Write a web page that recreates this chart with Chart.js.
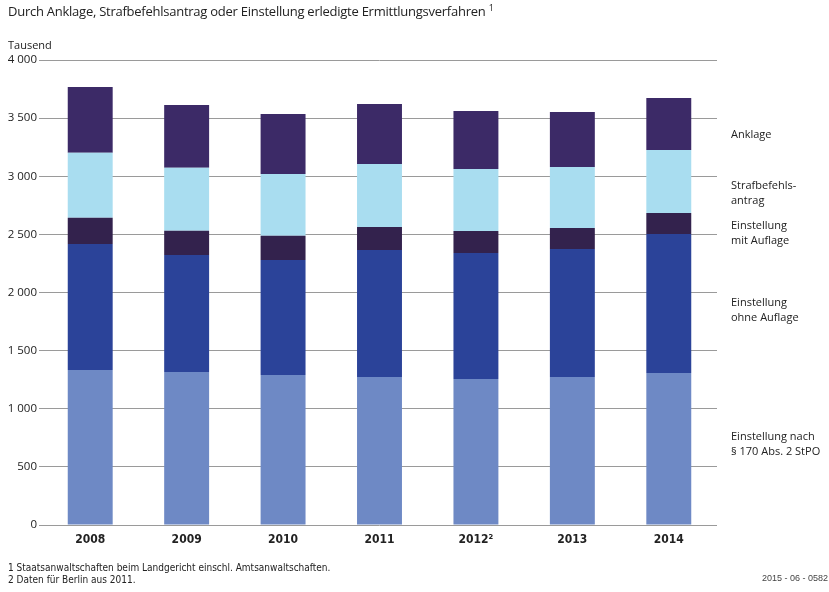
<!DOCTYPE html>
<html lang="de">
<head>
<meta charset="utf-8">
<script src="https://cdn.jsdelivr.net/npm/chart.js@4/dist/chart.umd.min.js"></script>
<style>
  body { margin: 0; background: #fff; font-family: "Open Sans", "Noto Sans", sans-serif; color: #222; }
  #wrap { position: relative; width: 829px; height: 592px; }
  canvas { position: absolute; left: 0; top: 0; }
  .txt { position: absolute; white-space: nowrap; }
  #title { left: 8px; top: 1px; font-size: 13px; letter-spacing: -0.25px; }
  #title sup { font-size: 9px; }
  #unit { left: 8px; top: 37px; font-size: 11px; }
  .foot { left: 8px; font-family: "Liberation Sans Narrow", "DejaVu Sans Condensed", sans-serif; font-size: 10px; }
  #code { left: 762px; top: 573px; font-family: "Liberation Sans Narrow", sans-serif; font-size: 9px; color: #444; }
</style>
</head>
<body>
<div id="wrap">
  <canvas id="chart" width="829" height="592"></canvas>
  <div class="txt" id="title">Durch Anklage, Strafbefehlsantrag oder Einstellung erledigte Ermittlungsverfahren <sup>1</sup></div>
  <div class="txt" id="unit">Tausend</div>
  <div class="txt foot" style="top:562px">1 Staatsanwaltschaften beim Landgericht einschl. Amtsanwaltschaften.</div>
  <div class="txt foot" style="top:574px">2 Daten für Berlin aus 2011.</div>
  <div class="txt" id="code">2015 - 06 - 0582</div>
</div>
<script>
// Werte in Tausend
const years = ['2008', '2009', '2010', '2011', '2012²', '2013', '2014'];
const nach170 = [1333, 1316, 1290, 1273, 1256, 1273, 1308];
const ohneAuflage = [1084, 1007, 990, 1093, 1084, 1101, 1195];
const mitAuflage = [226, 209, 209, 197, 189, 181, 181];
const strafbefehl = [560, 542, 530, 542, 533, 525, 542];
const anklage = [565, 539, 516, 517, 499, 473, 447];
const yTicks = [0, 500, 1000, 1500, 2000, 2500, 3000, 3500, 4000];

// Beschriftung rechts neben den Säulen (Lage in Tausend)
const seriesLabels = [
  ['Einstellung nach', '§ 170 Abs. 2 StPO'],
  ['Einstellung', 'ohne Auflage'],
  ['Einstellung', 'mit Auflage'],
  ['Strafbefehls-', 'antrag'],
  ['Anklage']
];
const labelAt = [690, 1850, 2505, 2850, 3355];

const colors = ['#6e89c5', '#2b4399', '#33224d', '#a9ddf0', '#3c2a67'];

const sideLabels = {
  id: 'sideLabels',
  afterDraw(chart) {
    const ctx = chart.ctx;
    const y = chart.scales.y;
    ctx.save();
    ctx.font = '11px "Open Sans", "Noto Sans", sans-serif';
    ctx.fillStyle = '#222';
    ctx.textBaseline = 'middle';
    seriesLabels.forEach((lines, i) => {
      const cy = y.getPixelForValue(labelAt[i]);
      const top = cy - (lines.length - 1) * 7.5;
      lines.forEach((l, j) => ctx.fillText(l, chart.chartArea.right + 14, top + j * 15));
    });
    ctx.restore();
  }
};

const data = {
  labels: years,
  datasets: [
    { label: 'Einstellung nach § 170 Abs. 2 StPO', data: nach170 },
    { label: 'Einstellung ohne Auflage', data: ohneAuflage },
    { label: 'Einstellung mit Auflage', data: mitAuflage },
    { label: 'Strafbefehlsantrag', data: strafbefehl },
    { label: 'Anklage', data: anklage }
  ].map((d, i) => Object.assign(d, {
    backgroundColor: colors[i],
    borderWidth: 0,
    barPercentage: 0.466,
    categoryPercentage: 1
  }))
};

new Chart(document.getElementById('chart'), {
  type: 'bar',
  data: data,
  options: {
    responsive: false,
    animation: false,
    layout: { padding: { left: 0, right: 112, top: 60, bottom: 42 } },
    plugins: { legend: { display: false }, tooltip: { enabled: false } },
    scales: {
      x: {
        stacked: true,
        grid: { display: false },
        border: { display: false },
        ticks: { color: '#222', font: { family: '"Liberation Sans Narrow", "DejaVu Sans Condensed", sans-serif', size: 12, weight: 'bold' }, padding: 0 },
        afterFit(s) { s.height = 25; }
      },
      y: {
        stacked: true,
        min: 0,
        max: 4000,
        afterBuildTicks(s) { s.ticks = yTicks.map(v => ({ value: v })); },
        afterFit(s) { s.width = 42; },
        grid: { color: '#9a9a9a', lineWidth: 1, tickLength: 3, drawTicks: true },
        border: { display: false },
        ticks: {
          color: '#222',
          padding: 2,
          font: { family: '"Open Sans", "Noto Sans", sans-serif', size: 11.5 },
          callback: v => v >= 1000 ? Math.floor(v / 1000) + ' ' + String(v % 1000).padStart(3, '0') : String(v)
        }
      }
    }
  },
  plugins: [sideLabels]
});
</script>
</body>
</html>
